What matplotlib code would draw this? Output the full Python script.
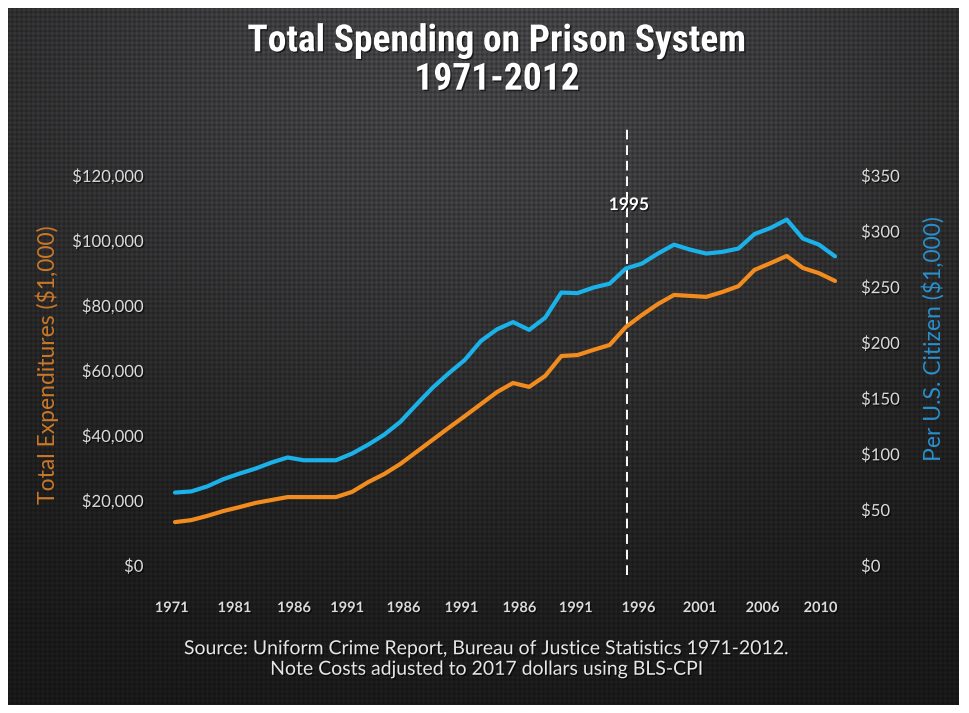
import numpy as np
import matplotlib
matplotlib.use("Agg")
import matplotlib.pyplot as plt
import matplotlib.patheffects as pe
from matplotlib.transforms import blended_transform_factory

# ---- data -------------------------------------------------------------
total_spending = [13200, 13800, 15100, 16600, 17800, 19100, 20000, 20900,
                  20900, 20900, 20900, 22500, 25500, 28000, 31100, 34800,
                  38500, 42200, 45800, 49500, 53200, 56000, 54800, 58200,
                  64300, 64600, 66200, 67700, 73200, 76900, 80300, 83100,
                  82800, 82500, 84000, 85800, 90800, 92900, 95100, 91400,
                  89800, 87400]
per_citizen = [65, 66, 70.5, 77, 82, 86.5, 92, 96.5, 94, 94, 94, 100, 108,
               117, 128.5, 144, 159, 172, 184, 201, 211.5, 218, 211, 222,
               244.5, 244, 249, 252.5, 266, 270.5, 279.5, 287.5, 283, 279.5,
               281, 284, 297, 302.5, 310, 293, 287.5, 277]

x_labels = ["1971", "1981", "1986", "1991", "1986", "1991", "1986", "1991",
            "1996", "2001", "2006", "2010"]
left_ticks = [0, 20000, 40000, 60000, 80000, 100000, 120000]
right_ticks = [0, 50, 100, 150, 200, 250, 300, 350]
marker_label = "1995"

title = "Total Spending on Prison System\n1971-2012"
left_title = "Total Expenditures ($1,000)"
right_title = "Per U.S. Citizen ($1,000)"
source = ("Source: Uniform Crime Report, Bureau of Justice Statistics 1971-2012.\n"
          "Note Costs adjusted to 2017 dollars using BLS-CPI")

# ---- layout -----------------------------------------------------------
W, H = 970, 713
x_label_pos = [-0.2, 3.7, 7.4, 10.7, 14.2, 17.8, 21.4, 24.9, 28.8, 32.6,
               36.5, 40.1]
marker_pos = 28.1

ORANGE = "#F28C1E"
BLUE = "#1BB2EA"
ORANGE_TXT = "#C9782A"
BLUE_TXT = "#2A8FCC"
TICK_TXT = "#DADADA"

fig = plt.figure(figsize=(W / 100, H / 100), dpi=100)

# textured slide background
yy, xx = np.mgrid[0:H, 0:W].astype(float)
base = 0.085 + 0.17 * np.exp(-(((xx - 485) / 620) ** 2 + ((yy - 40) / 430) ** 2))
p = 4.7
dots = (np.cos(2 * np.pi * xx / p) + np.cos(2 * np.pi * yy / p)) / 2
val = base * (1 + 0.22 * dots)
img = np.dstack([val, val, val * 1.03])
img = np.clip(img, 0, 1)
border = (xx < 8) | (xx > W - 12) | (yy < 8) | (yy > H - 9)
img[border] = 1.0
bg = fig.add_axes([0, 0, 1, 1])
bg.imshow(img, interpolation="nearest", aspect="auto", extent=(0, W, H, 0))
bg.set_axis_off()

shadow = [pe.withSimplePatchShadow(offset=(1, -1), shadow_rgbFace="black", alpha=0.6)]

# plotting area
ax = fig.add_axes([160 / W, 1 - 565 / H, 690 / W, 390 / H])
ax.patch.set_alpha(0)
ax2 = ax.twinx()
ax2.patch.set_alpha(0)

x = np.arange(len(total_spending))
ax.plot(x, total_spending, color=ORANGE, lw=3.0, solid_joinstyle="round",
        solid_capstyle="round", zorder=3)
ax2.plot(x, per_citizen, color=BLUE, lw=3.0, solid_joinstyle="round",
         solid_capstyle="round", zorder=3)

ax.set_xlim(-0.93, 41.93)
ax.set_ylim(0, 120000)
ax2.set_ylim(0, 350)

for a in (ax, ax2):
    for s in a.spines.values():
        s.set_visible(False)

ax.set_xticks(x_label_pos)
ax.set_xticklabels(x_labels, family="Lato", fontsize=10.5, fontweight="bold",
                   color=TICK_TXT)
ax.set_yticks(left_ticks)
ax.set_yticklabels([f"${v:,.0f}" for v in left_ticks], family="Lato",
                   fontsize=12, color=TICK_TXT)
ax2.set_yticks(right_ticks)
ax2.set_yticklabels([f"${v:,.0f}" for v in right_ticks], family="Lato",
                    fontsize=12, color=TICK_TXT)
ax.tick_params(axis="x", length=0, pad=26)
ax.tick_params(axis="y", length=0, pad=12)
ax2.tick_params(axis="y", length=0, pad=8)
for t in ax.get_xticklabels() + ax.get_yticklabels() + ax2.get_yticklabels():
    t.set_path_effects(shadow)

# marker line
ax.axvline(marker_pos, ymin=-0.026, ymax=1.12, color="white", lw=1.4,
           dashes=(5, 3), clip_on=False, zorder=2)
trans = blended_transform_factory(ax.transData, ax.transAxes)
ax.text(marker_pos + 0.1, 0.923, marker_label, transform=trans, ha="center",
        va="center", color="white", fontsize=12.5, fontweight="bold",
        family="Lato", path_effects=shadow)

# titles and notes
fig.text(497 / W, 1 - 60 / H, title, ha="center", va="center", color="white",
         fontsize=27, fontweight="bold", linespacing=1.05,
         family=["Roboto Condensed", "Roboto"], path_effects=shadow)
fig.text(47 / W, 1 - 365 / H, left_title, rotation=90, ha="center",
         va="center", color=ORANGE_TXT, fontsize=16.5, family="Lato")
fig.text(933 / W, 1 - 339 / H, right_title, rotation=90, ha="center",
         va="center", color=BLUE_TXT, fontsize=16.5, family="Lato")
fig.text(487 / W, 1 - 659 / H, source, ha="center", va="center",
         color="#E6E6E6", fontsize=14, family="Lato", linespacing=1.25,
         path_effects=shadow)

fig.savefig("out.png", dpi=100)
